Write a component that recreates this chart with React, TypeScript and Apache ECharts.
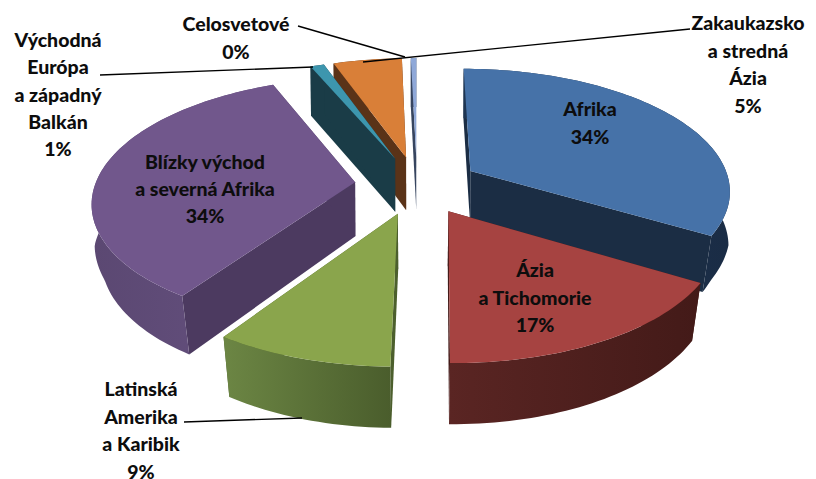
import React, { useEffect, useRef } from "react";
import * as echarts from "echarts";

const categories = [
  "Afrika",
  "Ázia\na Tichomorie",
  "Latinská\nAmerika\na Karibik",
  "Blízky východ\na severná Afrika",
  "Východná\nEurópa\na západný\nBalkán",
  "Zakaukazsko\na stredná\nÁzia",
  "Celosvetové",
];
const seriesValues = [33.6, 16.6, 9.2, 34.2, 1.0, 5.0, 0.4];
const percentLabels = ["34%", "17%", "9%", "34%", "1%", "5%", "0%"];

const topColors = ["#4672a8", "#a64341", "#8aa54c", "#71578c", "#3d96ae", "#d97f38", "#8fa8d8"];
const cutColors = ["#1b2d44", "#441a18", "#4c5f2d", "#4c3a60", "#1a3c47", "#5a3318", "#37455f"];
const rimFrom = ["#1e3552", "#5a2523", "#6c8644", "#5b4872", "#1a3c47", "#5a3318", "#37455f"];
const rimTo = ["#1a2c45", "#431a18", "#4a5d2c", "#65507f", "#1a3c47", "#5a3318", "#37455f"];
const drawRank = [4, 6, 5, 3, 2, 1, 0];

const labelCenters = [
  [590, 122.5], [535, 297], [141, 430], [205, 188.5], [58, 94], [748, 64], [236, 37.5],
];
const leaderLines = [
  [184, 422, 302, 418],
  [100, 75, 313, 67],
  [363, 62, 690, 29],
  [298, 26, 405, 57],
];

const CX = 417, CY = 185, R = 260, KY = 121, D = 6.8, EXPLODE = 0.24;
const total = seriesValues.reduce((a, b) => a + b, 0);

function project(x: number, y: number) {
  const s = D / (D - y);
  return [CX + R * x * s, CY + KY * y * s];
}
function lower(p: number[]) {
  const shrink = 0.03 * Math.min(1, Math.max(0.15, (p[1] - CY) / 40));
  return [CX + (p[0] - CX) * (1 - shrink), p[1] + 54 + 0.04 * (p[1] - CY)];
}

function renderItem(params: any) {
  const i = params.dataIndex;
  let before = 0;
  for (let k = 0; k < i; k++) before += seriesValues[k];
  const a0 = (before / total) * Math.PI * 2;
  const a1 = ((before + seriesValues[i]) / total) * Math.PI * 2;
  const am = (a0 + a1) / 2;
  const ox = EXPLODE * Math.sin(am);
  const oy = -EXPLODE * Math.cos(am);
  const apex = project(ox, oy);
  const rim: number[][] = [];
  const steps = Math.max(2, Math.ceil((a1 - a0) / 0.025));
  for (let s = 0; s <= steps; s++) {
    const a = a0 + ((a1 - a0) * s) / steps;
    rim.push(project(ox + Math.sin(a), oy - Math.cos(a)));
  }
  const rimLow = rim.map(lower);
  const apexLow = lower(apex);
  const z = drawRank[i] * 10;
  const last = rim.length - 1;
  const children: any[] = [
    {
      type: "polygon",
      z2: z + 1,
      shape: { points: [apex, rim[0], rimLow[0], apexLow] },
      style: { fill: cutColors[i] },
    },
    {
      type: "polygon",
      z2: z + 2,
      shape: { points: [apex, rim[last], rimLow[last], apexLow] },
      style: { fill: cutColors[i] },
    },
    {
      type: "polygon",
      z2: z + 3,
      shape: { points: [...rim, ...rimLow.slice().reverse()] },
      style: {
        fill: new echarts.graphic.LinearGradient(0, 0, 1, 0, [
          { offset: 0, color: rimFrom[i] },
          { offset: 1, color: rimTo[i] },
        ]),
      },
    },
    {
      type: "polygon",
      z2: z + 4,
      shape: { points: [apex, ...rim] },
      style: { fill: topColors[i] },
    },
  ];
  return { type: "group", children };
}

export default function App() {
  const ref = useRef<HTMLDivElement>(null);
  useEffect(() => {
    const chart = echarts.init(ref.current!, undefined, { renderer: "svg" });
    const labels = categories.map((name, i) => ({
      type: "text",
      z: 100,
      x: labelCenters[i][0],
      y: labelCenters[i][1],
      style: {
        text: `${name}\n${percentLabels[i]}`,
        align: "center",
        verticalAlign: "middle",
        fontFamily: "Lato",
        fontWeight: 900,
        fontSize: 19.5,
        lineHeight: 27.4,
        fill: "#0d0d0d",
      },
    }));
    const lines = leaderLines.map((l) => ({
      type: "line",
      z: 90,
      shape: { x1: l[0], y1: l[1], x2: l[2], y2: l[3] },
      style: { stroke: "#000000", lineWidth: 1.4 },
    }));
    chart.setOption({
      animation: false,
      backgroundColor: "#ffffff",
      series: [
        {
          type: "custom",
          coordinateSystem: "none",
          silent: true,
          clip: false,
          data: seriesValues.map((v, i) => ({ name: categories[i], value: v })),
          renderItem,
        },
      ],
      graphic: [...lines, ...labels],
    });
    return () => chart.dispose();
  }, []);
  return (
    <div
      ref={ref}
      style={{ position: "absolute", left: 0, top: 0, width: 816, height: 479, overflow: "hidden" }}
    />
  );
}
